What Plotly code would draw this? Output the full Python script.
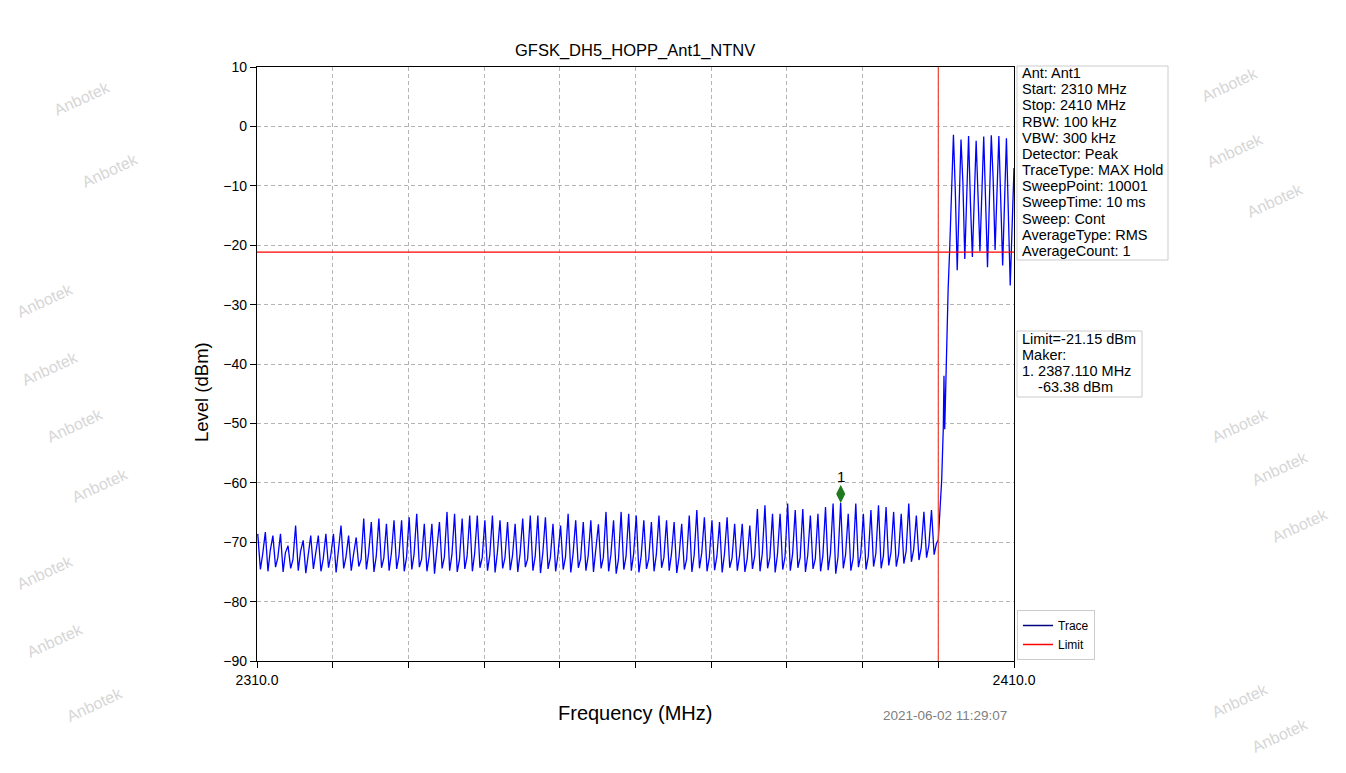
import plotly.graph_objects as go

# ---------------- data ----------------
FREQ_START, FREQ_STOP = 2310.0, 2410.0
LEVEL_MIN, LEVEL_MAX = -90, 10
LIMIT_DBM = -21.15
EDGE_FREQ = 2400.0
MARKER_FREQ = 2387.110
MARKER_LEVEL = -63.38
TITLE = "GFSK_DH5_HOPP_Ant1_NTNV"
TIMESTAMP = "2021-06-02 11:29:07"

x_tick_values = [2310, 2320, 2330, 2340, 2350, 2360, 2370, 2380, 2390, 2400, 2410]
x_tick_labels = ["2310.0", "", "", "", "", "", "", "", "", "", "2410.0"]
y_tick_values = [-90, -80, -70, -60, -50, -40, -30, -20, -10, 0, 10]

info_lines = ["Ant: Ant1", "Start: 2310 MHz", "Stop: 2410 MHz", "RBW: 100 kHz",
              "VBW: 300 kHz", "Detector: Peak", "TraceType: MAX Hold",
              "SweepPoint: 10001", "SweepTime: 10 ms", "Sweep: Cont",
              "AverageType: RMS", "AverageCount: 1"]

# spur comb below the band edge: one peak per MHz, 2310 ... 2399
comb_first_mhz = 2310
comb_peaks = [
    -68.6, -68.3, -68.9, -68.6, -70.6, -67.2, -69.7, -68.9, -68.9, -68.6,
    -68.6, -67.2, -68.9, -69.2, -66.0, -66.6, -66.0, -66.9, -66.3, -66.3,
    -65.8, -65.2, -66.9, -66.9, -66.6, -64.9, -65.2, -66.0, -65.5, -65.5,
    -66.3, -65.5, -66.3, -66.6, -66.9, -66.0, -65.5, -65.5, -65.8, -66.9,
    -67.2, -65.2, -66.3, -66.6, -66.3, -67.0, -64.9, -66.3, -64.9, -65.2,
    -65.5, -66.3, -66.6, -65.5, -66.3, -66.6, -66.9, -65.5, -64.6, -65.8,
    -66.3, -66.6, -65.8, -66.9, -66.9, -67.2, -64.4, -63.8, -65.2, -65.2,
    -63.5, -64.6, -64.4, -65.5, -65.2, -64.1, -63.5, -63.38, -65.2, -63.5,
    -65.2, -64.6, -63.8, -64.1, -64.9, -65.2, -63.5, -65.5, -64.9, -64.6,
]
comb_floor_low = [
    -74.6, -74.9, -74.2, -75.0, -74.4, -74.8, -75.2, -74.5, -74.9, -74.3,
    -75.1, -74.4, -74.8, -74.1, -74.6, -75.0, -74.3, -74.8, -74.5, -74.9,
    -74.6, -74.2, -74.9, -75.3, -74.4, -74.8, -75.0, -74.5, -74.9, -74.3,
    -74.8, -75.1, -74.4, -74.7, -75.0, -74.2, -74.8, -75.2, -74.5, -74.9,
    -74.6, -75.1, -74.3, -74.8, -75.0, -74.4, -74.9, -75.3, -74.6, -74.8,
    -75.1, -74.5, -74.9, -74.3, -74.8, -75.2, -74.6, -75.0, -74.4, -74.9,
    -74.7, -75.1, -74.3, -74.8, -75.0, -74.5, -74.9, -74.4, -75.1, -74.6,
    -74.8, -74.3, -75.0, -74.5, -74.9, -74.7, -75.3, -74.4, -74.8, -74.2,
    -74.6, -74.1, -74.4, -73.9, -74.1, -73.6, -73.3, -73.0, -72.6, -72.1,
]
comb_floor_high = [
    -72.0, -71.4, -72.6, -71.8, -72.9, -71.6, -72.3, -71.9, -72.8, -72.2,
    -71.7, -72.5, -72.1, -72.9, -71.8, -72.4, -72.7, -71.9, -72.3, -72.6,
    -72.0, -72.8, -72.3, -71.7, -72.5, -72.1, -72.9, -72.4, -71.9, -72.6,
    -72.2, -71.8, -72.7, -72.3, -72.0, -72.8, -72.4, -71.9, -72.6, -72.2,
    -72.5, -72.0, -72.8, -72.3, -71.7, -72.6, -72.1, -72.9, -72.4, -72.0,
    -72.3, -72.8, -72.1, -72.6, -72.0, -72.5, -72.9, -72.2, -71.8, -72.6,
    -72.4, -72.0, -72.7, -72.2, -72.8, -72.3, -71.9, -72.6, -72.1, -72.5,
    -72.0, -72.6, -72.2, -72.8, -72.3, -71.9, -72.5, -72.1, -72.7, -72.2,
    -72.4, -71.9, -72.3, -71.7, -72.0, -71.5, -71.2, -70.9, -70.6, -70.2,
]

# band-edge rise
edge_freq = [2400.0, 2400.2, 2400.45, 2400.66, 2400.75, 2400.85, 2401.0, 2401.1, 2401.3, 2401.5, 2401.8]
edge_level = [-69.6, -65.3, -59.4, -50.7, -42.0, -51.0, -41.3, -40.0, -27.4, -20.8, -8.8]

# in-band hopping channels 2402 ... 2409
inband_freq = [2402.0, 2403.0, 2404.0, 2405.0, 2406.0, 2407.0, 2408.0, 2409.0]
inband_peaks = [-1.4, -2.2, -1.6, -2.4, -1.7, -1.5, -1.6, -2.0]
inband_shoulders = [-11.0, -9.5, -13.0, -10.5, -12.0, -9.0, -12.5, -14.0]
inband_troughs = [-24.2, -22.3, -22.0, -21.0, -23.7, -20.8, -23.4, -26.8]
end_level = -7.0

# ---------------- build the trace ----------------
trace_x, trace_y = [], []
for i, (pk, lo, hi) in enumerate(zip(comb_peaks, comb_floor_low, comb_floor_high)):
    f = comb_first_mhz + i
    trace_x += [f + 0.1, f + 0.45, f + 0.75]
    trace_y += [pk, lo, hi]
trace_x += edge_freq
trace_y += edge_level
for f, pk, sh, tr in zip(inband_freq, inband_peaks, inband_shoulders, inband_troughs):
    trace_x += [f, f + 0.25, f + 0.5]
    trace_y += [pk, sh, tr]
trace_x.append(FREQ_STOP)
trace_y.append(end_level)

# ---------------- layout helpers (page pixel -> paper) ----------------
PAGE_OFF = 8          # default body margin of the html page
W, H = 1346 - PAGE_OFF, 773 - PAGE_OFF
PL, PR, PT, PB = 257, 1014, 67, 661   # plot area in page pixels


def pxx(x):
    return (x - PL) / (PR - PL)


def pxy(y):
    return (PB - y) / (PB - PT)


FONT = "Arial, 'Liberation Sans', Helvetica, sans-serif"

fig = go.Figure()
fig.add_trace(go.Scatter(x=trace_x, y=trace_y, mode="lines",
                         line=dict(color="#0000ff", width=1.3),
                         showlegend=False, hoverinfo="skip"))
fig.add_trace(go.Scatter(x=[FREQ_START, FREQ_STOP], y=[LIMIT_DBM, LIMIT_DBM], mode="lines",
                         line=dict(color="#ff0000", width=1.2), showlegend=False))
fig.add_trace(go.Scatter(x=[EDGE_FREQ, EDGE_FREQ], y=[LEVEL_MIN, LEVEL_MAX], mode="lines",
                         line=dict(color="#ee4433", width=1.2), showlegend=False))
MARKER_LIFT = 1.5
fig.add_trace(go.Scatter(x=[MARKER_FREQ], y=[MARKER_LEVEL + MARKER_LIFT], mode="markers",
                         marker=dict(symbol="diamond-tall", size=13, color="#1f7a1f"),
                         showlegend=False))
# legend entries
fig.add_trace(go.Scatter(x=[None], y=[None], mode="lines", name="Trace",
                         line=dict(color="#000080", width=1.5)))
fig.add_trace(go.Scatter(x=[None], y=[None], mode="lines", name="Limit",
                         line=dict(color="#ff0000", width=1.5)))

axis_common = dict(showline=True, mirror=True, linecolor="black", linewidth=1.2,
                   ticks="outside", ticklen=6, tickcolor="black", tickwidth=1,
                   showgrid=True, gridcolor="#b4b4b4", griddash="4px,3px", gridwidth=0.8,
                   zeroline=False, tickfont=dict(size=14, color="black", family=FONT))

fig.update_xaxes(range=[FREQ_START, FREQ_STOP], tickmode="array",
                 tickvals=x_tick_values, ticktext=x_tick_labels, **axis_common)
fig.update_yaxes(range=[LEVEL_MIN, LEVEL_MAX], tickmode="array",
                 tickvals=y_tick_values, **axis_common)

annotations = []
annotations.append(dict(text=TITLE, x=pxx(635), y=pxy(50), xref="paper", yref="paper",
                        showarrow=False, xanchor="center", yanchor="middle",
                        font=dict(size=16.5, color="black", family=FONT)))
annotations.append(dict(text="Frequency (MHz)", x=pxx(635), y=pxy(713), xref="paper", yref="paper",
                        showarrow=False, xanchor="center", yanchor="middle",
                        font=dict(size=20, color="black", family=FONT)))
annotations.append(dict(text="Level (dBm)", x=pxx(201), y=pxy(392), xref="paper", yref="paper",
                        showarrow=False, xanchor="center", yanchor="middle", textangle=-90,
                        font=dict(size=18.5, color="black", family=FONT)))
annotations.append(dict(text=TIMESTAMP, x=pxx(945), y=pxy(715), xref="paper", yref="paper",
                        showarrow=False, xanchor="center", yanchor="middle",
                        font=dict(size=13.5, color="#808080", family=FONT)))
annotations.append(dict(text="1", x=MARKER_FREQ, y=MARKER_LEVEL + MARKER_LIFT, xref="x", yref="y",
                        showarrow=False, yshift=17, xanchor="center", yanchor="middle",
                        font=dict(size=15, color="black", family=FONT)))

# info box
info_top, info_step = 73, 16.18
for k, line in enumerate(info_lines):
    annotations.append(dict(text=line, x=pxx(1020), y=pxy(info_top + k * info_step),
                            xref="paper", yref="paper", showarrow=False,
                            xanchor="left", yanchor="middle",
                            font=dict(size=14.5, color="black", family=FONT)))

marker_lines = [f"Limit={LIMIT_DBM:.2f} dBm", "Maker:", f"1. {MARKER_FREQ:.3f} MHz",
                "\u00a0\u00a0\u00a0\u00a0" + f"{MARKER_LEVEL:.2f} dBm"]
for k, line in enumerate(marker_lines):
    annotations.append(dict(text=line, x=pxx(1020), y=pxy(339 + k * 16.1),
                            xref="paper", yref="paper", showarrow=False,
                            xanchor="left", yanchor="middle",
                            font=dict(size=14.5, color="black", family=FONT)))

# watermarks in the page margins
wm_pos = [(82, 98), (110, 170), (45, 300), (50, 368), (75, 425), (100, 485),
          (45, 572), (55, 640), (95, 705),
          (1235, 150), (1275, 200), (1240, 425), (1280, 468), (1300, 525),
          (1240, 700), (1280, 735), (1230, 85)]
for (wx, wy) in wm_pos:
    annotations.append(dict(text="Anbotek", x=pxx(wx), y=pxy(wy), xref="paper", yref="paper",
                            showarrow=False, xanchor="center", yanchor="middle", textangle=-25,
                            font=dict(size=16, color="#d6d6d6", family=FONT)))

shapes = [
    dict(type="rect", xref="paper", yref="paper", x0=pxx(1017), x1=pxx(1168),
         y0=pxy(260), y1=pxy(66), line=dict(color="#cccccc", width=1), fillcolor="white",
         layer="below"),
    dict(type="rect", xref="paper", yref="paper", x0=pxx(1017), x1=pxx(1142),
         y0=pxy(397), y1=pxy(331), line=dict(color="#cccccc", width=1), fillcolor="white",
         layer="below"),
]

fig.update_layout(
    width=W, height=H,
    margin=dict(l=PL - PAGE_OFF, r=W - (PR - PAGE_OFF), t=PT - PAGE_OFF,
                b=H - (PB - PAGE_OFF), autoexpand=False),
    paper_bgcolor="white", plot_bgcolor="white",
    font=dict(family=FONT, color="black"),
    showlegend=True,
    legend=dict(x=pxx(1017), y=pxy(660), xanchor="left", yanchor="bottom",
                bordercolor="#cccccc", borderwidth=1, bgcolor="white",
                font=dict(size=12, color="black", family=FONT),
                itemwidth=30, tracegroupgap=0),
    annotations=annotations,
    shapes=shapes,
)

fig.write_html("out.html")
